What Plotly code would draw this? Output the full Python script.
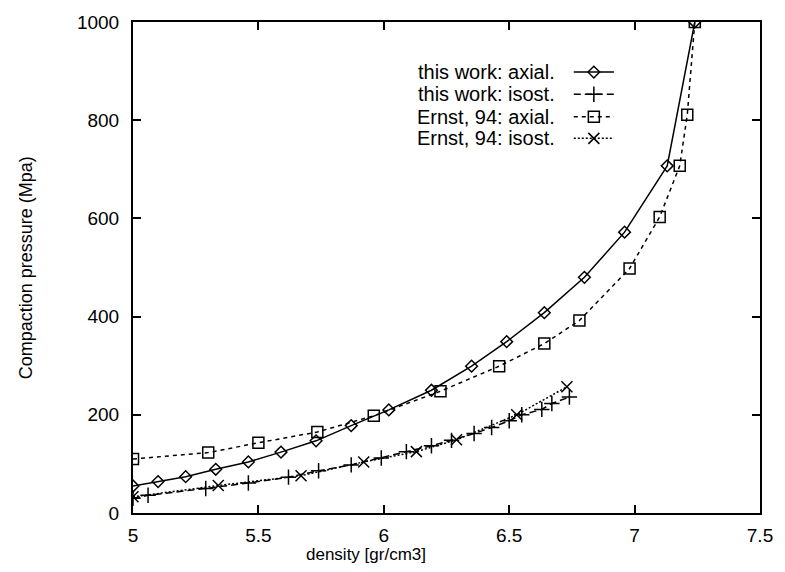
import plotly.graph_objects as go

# ---- data ----
tw_axial_x = [5.00, 5.10, 5.21, 5.33, 5.46, 5.59, 5.73, 5.87, 6.02, 6.19, 6.35, 6.49, 6.64, 6.80, 6.96, 7.13, 7.24]
tw_axial_p = [55, 64, 74, 89, 104, 124, 147, 178, 210, 250, 299, 349, 408, 480, 572, 707, 1000]

tw_iso_x = [5.00, 5.06, 5.29, 5.46, 5.62, 5.74, 5.87, 5.99, 6.09, 6.19, 6.27, 6.36, 6.43, 6.50, 6.55, 6.63, 6.67, 6.74]
tw_iso_p = [30, 36, 50, 61, 73, 86, 98, 112, 125, 137, 148, 162, 174, 188, 200, 211, 223, 236]

ernst_axial_x = [5.00, 5.30, 5.50, 5.735, 5.96, 6.226, 6.46, 6.64, 6.78, 6.98, 7.10, 7.18, 7.21, 7.24]
ernst_axial_p = [110, 123, 143, 165, 198, 248, 299, 345, 392, 498, 603, 707, 811, 1000]

ernst_iso_x = [5.00, 5.34, 5.67, 5.92, 6.13, 6.29, 6.53, 6.73]
ernst_iso_p = [33, 56, 76, 104, 125, 149, 200, 257]

series_names = ["this work: axial.", "this work: isost.", "Ernst, 94: axial.", "Ernst, 94: isost."]
x_ticks = [5, 5.5, 6, 6.5, 7, 7.5]
x_ticklabels = ["5", "5.5", "6", "6.5", "7", "7.5"]
y_ticks = [0, 200, 400, 600, 800, 1000]
y_ticklabels = ["0", "200", "400", "600", "800", "1000"]

FONT = "Liberation Sans, Arial, sans-serif"
styles = [
    dict(symbol="diamond-open", size=9, dash="solid"),
    dict(symbol="cross-thin-open", size=11, dash="7px,4px"),
    dict(symbol="square-open", size=11, dash="4px,4px"),
    dict(symbol="x-thin-open", size=11, dash="2px,2px"),
]
data = [(tw_axial_x, tw_axial_p), (tw_iso_x, tw_iso_p),
        (ernst_axial_x, ernst_axial_p), (ernst_iso_x, ernst_iso_p)]

fig = go.Figure()
for (xs, ys), st, name in zip(data, styles, series_names):
    fig.add_trace(go.Scatter(
        x=xs, y=ys, mode="lines+markers", name=name, showlegend=False,
        line=dict(color="black", width=1.5, dash=st["dash"]),
        marker=dict(symbol=st["symbol"], size=st["size"], color="black",
                    line=dict(color="black", width=1.5)),
    ))

# ---- gnuplot-style key (text, then sample) on a hidden overlay axis ----
key_rows_y = [0.898, 0.853, 0.807, 0.763]
key_line_x = [0.703, 0.767]
key_mark_x = 0.735
key_text_x = 0.676
for st, name, ky in zip(styles, series_names, key_rows_y):
    fig.add_trace(go.Scatter(
        x=key_line_x, y=[ky, ky], mode="lines", xaxis="x2", yaxis="y2",
        showlegend=False, hoverinfo="skip",
        line=dict(color="black", width=1.5, dash=st["dash"]),
    ))
    fig.add_trace(go.Scatter(
        x=[key_mark_x], y=[ky], mode="markers", xaxis="x2", yaxis="y2",
        showlegend=False, hoverinfo="skip",
        marker=dict(symbol=st["symbol"], size=st["size"], color="black",
                    line=dict(color="black", width=1.5)),
    ))
    fig.add_annotation(x=key_text_x, y=ky, xref="paper", yref="paper",
                       text=name, showarrow=False, xanchor="right", yanchor="middle",
                       font=dict(family=FONT, size=20, color="black"))

axis_common = dict(showline=True, linecolor="black", linewidth=2, mirror="ticks",
                   ticks="inside", ticklen=8, tickwidth=1.5, tickcolor="black",
                   showgrid=False, zeroline=False,
                   tickfont=dict(family=FONT, size=19, color="black"))

fig.update_layout(
    width=785, height=572,
    margin=dict(l=133, r=20, t=15, b=59),
    paper_bgcolor="white", plot_bgcolor="white",
    xaxis=dict(range=[5, 7.5], tickvals=x_ticks, ticktext=x_ticklabels,
               ticklabelstandoff=4, **axis_common),
    yaxis=dict(range=[0, 1000], tickvals=y_ticks, ticktext=y_ticklabels,
               ticklabelstandoff=8, **axis_common),
    xaxis2=dict(range=[0, 1], overlaying="x", visible=False, fixedrange=True),
    yaxis2=dict(range=[0, 1], overlaying="y", visible=False, fixedrange=True),
)

fig.add_annotation(x=0.372, y=-0.084, xref="paper", yref="paper",
                   text="density [gr/cm3]", showarrow=False,
                   xanchor="center", yanchor="middle",
                   font=dict(family=FONT, size=17, color="black"))
fig.add_annotation(x=-0.171, y=0.5, xref="paper", yref="paper",
                   text="Compaction pressure (Mpa)", showarrow=False, textangle=-90,
                   xanchor="center", yanchor="middle",
                   font=dict(family=FONT, size=18, color="black"))

fig.write_html("out.html", config={"displayModeBar": False},
               post_script="document.body.style.margin='0';")
